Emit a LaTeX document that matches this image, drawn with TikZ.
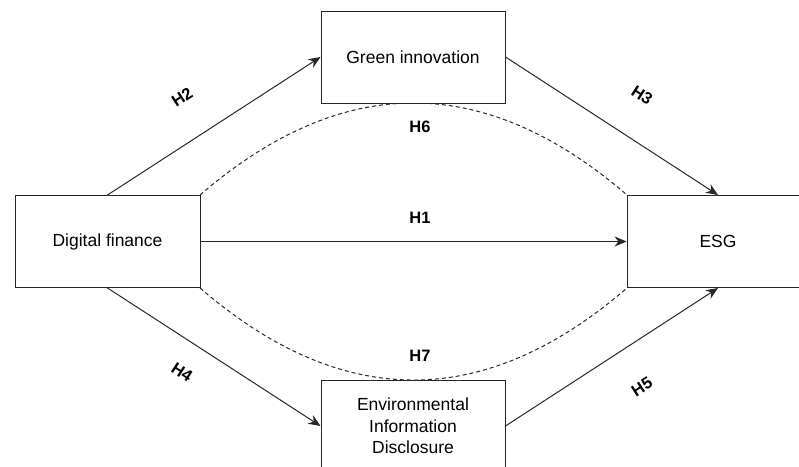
\documentclass[tikz,border=0pt]{standalone}
\usepackage{fontspec}
\setmainfont{Liberation Sans}
\usetikzlibrary{arrows.meta}
\begin{document}
\begin{tikzpicture}[x=1pt,y=-1pt,
  box/.style={draw=black!85,fill=white,line width=1pt,minimum width=184pt,minimum height=92pt,inner sep=0pt,font=\fontsize{17.5}{21.5}\selectfont,align=center},
  arr/.style={draw=black!85,line width=1pt,-{Stealth[length=12pt,width=10pt]}},
  dsh/.style={draw=black!85,line width=1pt,dash pattern=on 4pt off 3pt},
  lab/.style={font=\bfseries\fontsize{16.5}{18}\selectfont,inner sep=0pt}]
\useasboundingbox (0,0) rectangle (799,466);
\coordinate (dfne) at (200,195);
\coordinate (dfse) at (200,288);
\coordinate (esnw) at (627,195);
\coordinate (essw) at (627,288);
\draw[dsh] (dfne) .. controls (342.3,72.3) and (484.7,72.3) .. (esnw);
\draw[dsh] (dfse) .. controls (342.3,410.7) and (484.7,410.7) .. (essw);
\node[box] (gi) at (413,57) {Green innovation};
\node[box,minimum width=185pt] (df) at (107.5,241.5) {Digital finance};
\node[box,minimum width=182pt] (esg) at (718,241.5) {ESG};
\node[box] (eid) at (413,426) {Environmental\\Information\\Disclosure};
\draw[arr] (df.north) -- (gi.west);
\draw[arr] (gi.east) -- (esg.north);
\draw[arr] (df.east) -- (esg.west);
\draw[arr] (df.south) -- (eid.west);
\draw[arr] (eid.east) -- (esg.south);
\node[lab,rotate=33] (h2) at (182,97) {H2};
\node[lab,rotate=-33] (h3) at (642,95) {H3};
\node[lab,rotate=-33] (h4) at (182,372) {H4};
\node[lab,rotate=33] (h5) at (642,387) {H5};
\node[lab] (h6) at (420,127) {H6};
\node[lab] (h1) at (420,218) {H1};
\node[lab] (h7) at (420,356) {H7};
\end{tikzpicture}
\end{document}
